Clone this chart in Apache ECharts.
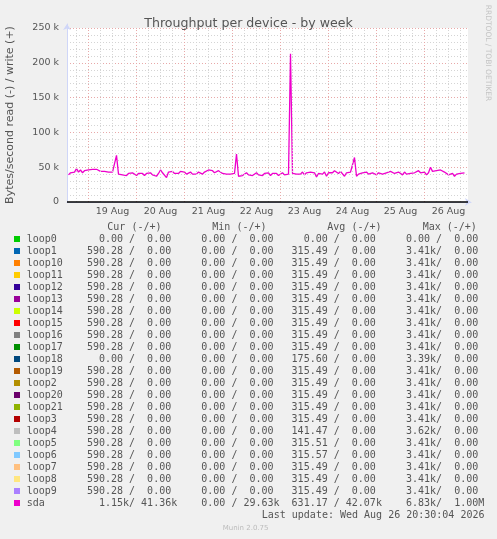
<!DOCTYPE html>
<html><head><meta charset="utf-8">
<script src="https://cdn.jsdelivr.net/npm/echarts@6/dist/echarts.min.js"></script>
<style>html,body{margin:0;padding:0;background:#F0F0F0;}#c{width:497px;height:539px;}</style>
</head><body><div id="c"></div>
<script>
// hours counted from 18 Aug 00:00; one value per hour
const startHour = 14;
const sdaWriteK = [
 39,42,40,43,
 48,
 43,46,42,45,44,
 46,48,47,49,47,46,
 44,42,44,42,43,41,43,42,
 67,
 40,42,39,41,38,41,39,42,40,38,41,39,41,38,41,40,42,39,41,
 37,41,46,42,41,
 35,43,
 42,44,41,43,41,44,42,
 43,40,42,43,40,42,40,43,41,40,43,41,
 46,48,45,42,40,45,47,
 41,43,40,42,40,42,41,
 69,
 37,35,38,
 40,42,39,41,38,40,42,39,41,38,41,40,42,38,41,39,41,38,40,42,39,41,40,
 213,
 41,43,40,42,40,43,39,42,40,43,41,42,36,41,43,40,43,37,42,44,42,45,43,41,44,42,37,42,44,43,44,
 64,
 37,40,
 39,42,40,43,40,39,42,41,39,42,43,40,39,42,41,44,43,41,40,43,41,39,43,40,42,41,39,42,43,45,42,40,43,39,42,
 50,
 44,42,45,43,46,44,43,41,39,38,41,37,40,38,41,39,42
];
const tickHours = [36,60,84,108,132,156,180,204];
const tickLabels = ['19 Aug','20 Aug','21 Aug','22 Aug','23 Aug','24 Aug','25 Aug','26 Aug'];

const names = ['loop0','loop1','loop10','loop11','loop12','loop13','loop14','loop15','loop16','loop17','loop18','loop19','loop2','loop20','loop21','loop3','loop4','loop5','loop6','loop7','loop8','loop9','sda'];
const colors = ['#00CC00','#0066B3','#FF8000','#FFCC00','#330099','#990099','#CCFF00','#FF0000','#808080','#008F00','#00487D','#B35A00','#B38F00','#6B006B','#8FB300','#B30000','#BEBEBE','#80FF80','#80C9FF','#FFC080','#FFE680','#AA80FF','#EE00CC'];
const curRead  = [0,590.28,590.28,590.28,590.28,590.28,590.28,590.28,590.28,590.28,0,590.28,590.28,590.28,590.28,590.28,590.28,590.28,590.28,590.28,590.28,590.28,1150];
const curWrite = [0,0,0,0,0,0,0,0,0,0,0,0,0,0,0,0,0,0,0,0,0,0,41360];
const minRead  = [0,0,0,0,0,0,0,0,0,0,0,0,0,0,0,0,0,0,0,0,0,0,0];
const minWrite = [0,0,0,0,0,0,0,0,0,0,0,0,0,0,0,0,0,0,0,0,0,0,29630];
const avgRead  = [0,315.49,315.49,315.49,315.49,315.49,315.49,315.49,315.49,315.49,175.60,315.49,315.49,315.49,315.49,315.49,141.47,315.51,315.57,315.49,315.49,315.49,631.17];
const avgWrite = [0,0,0,0,0,0,0,0,0,0,0,0,0,0,0,0,0,0,0,0,0,0,42070];
const maxRead  = [0,3410,3410,3410,3410,3410,3410,3410,3410,3410,3390,3410,3410,3410,3410,3410,3620,3410,3410,3410,3410,3410,6830];
const maxWrite = [0,0,0,0,0,0,0,0,0,0,0,0,0,0,0,0,0,0,0,0,0,0,1000000];
const headers = ['Cur (-/+)','Min (-/+)','Avg (-/+)','Max (-/+)'];
const lastUpdate = 'Last update: Wed Aug 26 20:30:04 2026';

function fmt(v){
  let s;
  if (v >= 1e6) s = (v/1e6).toFixed(2)+'M';
  else if (v >= 1000) s = (v/1000).toFixed(2)+'k';
  else s = v.toFixed(2)+' ';
  return s.padStart(7);
}
function seg(r,w){ return fmt(r)+'/'+fmt(w); }

const sdaData = sdaWriteK.map((v,i)=>[startHour+i, v]);

const gridLines = [];
for (let h = 18; h <= 210; h += 6) {
  gridLines.push({xAxis: h, lineStyle: {color: h % 24 === 0 ? '#E8A8A8' : '#D4D4D4', type: [1,2], width: 1}});
}

const mono = '"DejaVu Sans Mono", monospace';
const sans = '"DejaVu Sans", sans-serif';
const graphics = [];
const rowY0 = 239.3, rowStep = 12;
names.forEach((n,i)=>{
  const y = rowY0 + i*rowStep;
  graphics.push({type:'rect', shape:{x:14, y:Math.round(y)-3, width:6, height:6}, style:{fill:colors[i]}, silent:true});
  const row = n.padEnd(10) + seg(curRead[i],curWrite[i]) + '  ' + seg(minRead[i],minWrite[i]) + '  ' + seg(avgRead[i],avgWrite[i]) + '  ' + seg(maxRead[i],maxWrite[i]);
  graphics.push({type:'text', x:26.7, y:y, style:{text:row, font:'10px '+mono, fill:'#555', textVerticalAlign:'middle', textAlign:'left'}, silent:true});
});
const headerX = [107.3, 212.3, 327.3, 422.7];
headers.forEach((h,i)=>{
  graphics.push({type:'text', x:headerX[i], y:227.7, style:{text:h, font:'10px '+mono, fill:'#555', textVerticalAlign:'middle'}, silent:true});
});
graphics.push({type:'text', x:261.7, y:515.7, style:{text:lastUpdate, font:'10px '+mono, fill:'#555', textVerticalAlign:'middle'}, silent:true});
graphics.push({type:'text', x:222.7, y:528.3, style:{text:'Munin 2.0.75', font:'7px '+sans, fill:'#BBBBBB', textVerticalAlign:'middle'}, silent:true});
graphics.push({type:'text', x:488, y:53, rotation:-Math.PI/2, style:{text:'RRDTOOL / TOBI OETIKER', font:'7.5px '+sans, fill:'#C4C4C4', textAlign:'center', textVerticalAlign:'middle'}, silent:true});

const chart = echarts.init(document.getElementById('c'), null, {renderer:'canvas'});
chart.setOption({
  backgroundColor:'#F0F0F0',
  animation:false,
  title:{text:'Throughput per device - by week', left:'center', top:12, textStyle:{fontFamily:sans, fontSize:12.6, fontWeight:'normal', color:'#555'}},
  grid:[
    {left:67, top:28, width:401, height:174, show:true, backgroundColor:'#FFFFFF', borderWidth:0, containLabel:false, outerBoundsMode:'none'},
    {left:67, top:24, width:404, height:178, show:false, containLabel:false, outerBoundsMode:'none'}
  ],
  xAxis:[
    {gridIndex:0, type:'value', min:13.25, max:213.75,
     axisLine:{show:false}, axisTick:{show:false}, splitLine:{show:false},
     axisLabel:{customValues:tickHours, formatter:(v)=>tickLabels[tickHours.indexOf(v)], color:'#555', fontFamily:sans, fontSize:9.5, margin:5}},
    {gridIndex:1, type:'value', min:0, max:1,
     axisLine:{show:true, symbol:['none','arrow'], symbolSize:[6,6], lineStyle:{color:'#CFD6F8', width:1}},
     axisTick:{show:false}, axisLabel:{show:false}, splitLine:{show:false}}
  ],
  yAxis:[
    {gridIndex:0, type:'value', min:0, max:250, interval:10,
     axisLine:{show:false}, axisTick:{show:false}, axisLabel:{show:false},
     splitLine:{lineStyle:{color:'#D4D4D4', type:[1,2], width:1}}},
    {gridIndex:0, type:'value', min:0, max:250, interval:50, position:'left',
     axisLine:{show:false}, axisTick:{show:false},
     axisLabel:{formatter:(v)=> v===0 ? '0' : v+' k', color:'#555', fontFamily:sans, fontSize:9.5, margin:8},
     splitLine:{lineStyle:{color:'#E8A8A8', type:[1,2], width:1}},
     name:'Bytes/second read (-) / write (+)', nameLocation:'middle', nameGap:51,
     nameTextStyle:{fontFamily:sans, fontSize:11, color:'#555'}},
    {gridIndex:1, type:'value', min:0, max:1,
     axisLine:{show:true, symbol:['none','arrow'], symbolSize:[6,6], lineStyle:{color:'#CFD6F8', width:1}},
     axisTick:{show:false}, axisLabel:{show:false}, splitLine:{show:false}}
  ],
  series:[
    {type:'line', xAxisIndex:0, yAxisIndex:0, data:[], z:1, silent:true,
     markLine:{silent:true, symbol:['none','none'], label:{show:false}, data:gridLines, animation:false}},
    {type:'line', xAxisIndex:0, yAxisIndex:1, data:sdaData, showSymbol:false, z:3, silent:true,
     lineStyle:{color:'#EE00CC', width:1.3},
     markLine:{silent:true, symbol:['none','none'], label:{show:false}, data:[{yAxis:0}], lineStyle:{color:'#000000', width:1.5, type:'solid'}, animation:false}}
  ],
  graphic: graphics
});
</script>
</body></html>
